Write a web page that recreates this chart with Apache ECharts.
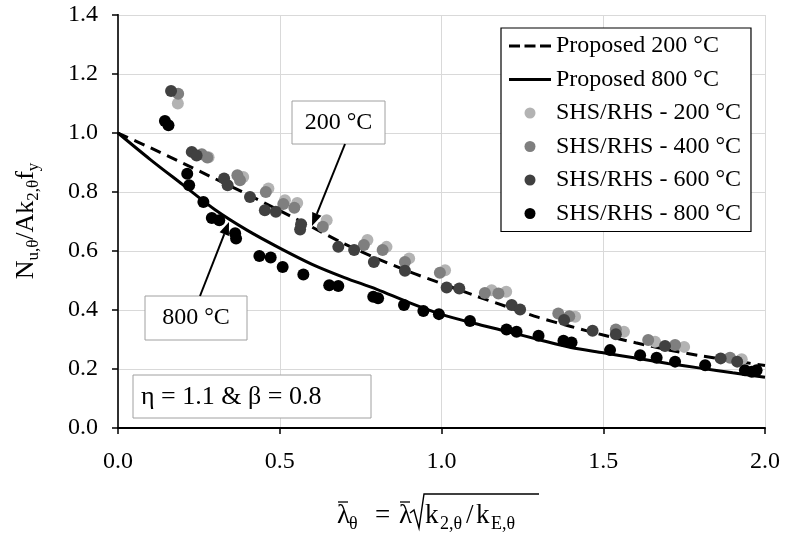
<!DOCTYPE html>
<html>
<head>
<meta charset="utf-8">
<script src="https://cdn.jsdelivr.net/npm/echarts@6/dist/echarts.min.js"></script>
<style>
  html, body { margin: 0; padding: 0; background: #fff; }
  #chart { width: 787px; height: 537px; }
</style>
</head>
<body>
<div id="chart"></div>
<script>
// 曲线的 x 取值
const curveX = [0.0, 0.1, 0.2, 0.3, 0.4, 0.5, 0.6, 0.7, 0.8, 0.9, 1.0,
  1.1, 1.2, 1.3, 1.4, 1.5, 1.6, 1.7, 1.8, 1.9, 2.0];
const proposed200 = [1.000, 0.950, 0.898, 0.845, 0.792, 0.737, 0.681, 0.624, 0.575, 0.530, 0.490,
  0.450, 0.412, 0.375, 0.344, 0.315, 0.289, 0.265, 0.245, 0.228, 0.212];
const proposed800 = [1.000, 0.910, 0.825, 0.740, 0.670, 0.610, 0.555, 0.510, 0.470, 0.425, 0.385,
  0.355, 0.328, 0.300, 0.273, 0.255, 0.237, 0.219, 0.203, 0.187, 0.172];

// 试验点 [λθ, Nu/(A k2 fy)]
const shs200 = [[0.185, 1.100], [0.280, 0.918], [0.387, 0.851], [0.465, 0.812], [0.516, 0.772],
  [0.554, 0.763], [0.645, 0.704], [0.771, 0.637], [0.830, 0.614], [0.900, 0.575], [1.011, 0.535],
  [1.155, 0.467], [1.200, 0.462], [1.413, 0.377], [1.564, 0.326], [1.660, 0.292], [1.750, 0.275],
  [1.928, 0.233]];
const shs400 = [[0.186, 1.133], [0.259, 0.928], [0.276, 0.917], [0.369, 0.857], [0.377, 0.840],
  [0.457, 0.800], [0.511, 0.759], [0.545, 0.747], [0.633, 0.682], [0.760, 0.620], [0.818, 0.603],
  [0.887, 0.563], [0.995, 0.526], [1.134, 0.458], [1.176, 0.456], [1.361, 0.388], [1.395, 0.379],
  [1.539, 0.334], [1.639, 0.298], [1.722, 0.281], [1.892, 0.238]];
const shs600 = [[0.164, 1.142], [0.228, 0.936], [0.243, 0.924], [0.328, 0.846], [0.339, 0.823],
  [0.408, 0.783], [0.454, 0.738], [0.488, 0.733], [0.563, 0.673], [0.566, 0.691], [0.681, 0.614],
  [0.730, 0.603], [0.791, 0.563], [0.887, 0.533], [1.016, 0.476], [1.055, 0.473], [1.217, 0.417],
  [1.243, 0.402], [1.379, 0.366], [1.467, 0.330], [1.539, 0.318], [1.691, 0.278], [1.863, 0.236],
  [1.914, 0.225]];
const shs800 = [[0.145, 1.041], [0.156, 1.026], [0.214, 0.862], [0.220, 0.823], [0.264, 0.766],
  [0.290, 0.712], [0.313, 0.704], [0.362, 0.660], [0.365, 0.642], [0.437, 0.583], [0.472, 0.578],
  [0.509, 0.546], [0.573, 0.520], [0.653, 0.484], [0.681, 0.481], [0.789, 0.445], [0.804, 0.440],
  [0.884, 0.417], [0.944, 0.397], [0.992, 0.386], [1.088, 0.363], [1.201, 0.334], [1.232, 0.326],
  [1.300, 0.313], [1.377, 0.296], [1.402, 0.290], [1.521, 0.264], [1.614, 0.247], [1.665, 0.238],
  [1.722, 0.225], [1.815, 0.213], [1.938, 0.196], [1.959, 0.191], [1.974, 0.196]];

const seriesNames = ['Proposed 200 °C', 'Proposed 800 °C',
  'SHS/RHS - 200 °C', 'SHS/RHS - 400 °C', 'SHS/RHS - 600 °C', 'SHS/RHS - 800 °C'];
const dotColors = ['#b3b3b3', '#7f7f7f', '#404040', '#000000'];

const FONT = '"Liberation Serif", "Times New Roman", serif';

// 图例里的线型图标（虚线 / 实线）
const dashIcon = 'path://M0,0h11v3h-11zM15.5,0h11v3h-11zM31,0h11v3h-11z';
const solidIcon = 'path://M0,0h42v3h-42z';

// 箭头：线段 + 三角形箭头
function arrow(x1, y1, x2, y2) {
  const dx = x2 - x1, dy = y2 - y1;
  const len = Math.sqrt(dx * dx + dy * dy);
  const ux = dx / len, uy = dy / len;
  const hl = 13, hw = 5;
  const bx = x2 - ux * hl, by = y2 - uy * hl;
  return [
    { type: 'line', shape: { x1: x1, y1: y1, x2: bx, y2: by },
      style: { stroke: '#000', lineWidth: 2 }, z: 100 },
    { type: 'polygon', shape: { points: [[x2, y2], [bx - uy * hw, by + ux * hw], [bx + uy * hw, by - ux * hw]] },
      style: { fill: '#000' }, z: 100 }
  ];
}

function labelBox(x, y, w, h, text, size) {
  return [
    { type: 'rect', shape: { x: x, y: y, width: w, height: h },
      style: { fill: '#fff', stroke: '#a0a0a0', lineWidth: 1 }, z: 100 },
    { type: 'text', x: x + w / 2, y: y + h / 2, z: 101,
      style: { text: text, font: size + 'px ' + FONT, fill: '#000', align: 'center', verticalAlign: 'middle' } }
  ];
}

function txt(x, y, text, size) {
  return { type: 'text', x: x, y: y, z: 101,
    style: { text: text, font: size + 'px ' + FONT, fill: '#000', align: 'left', verticalAlign: 'middle' } };
}

// x 轴名称（带上划线和根号）
const xNameParts = [
  txt(337, 516, 'λ', 27),
  { type: 'line', shape: { x1: 338, y1: 502, x2: 348, y2: 502 }, style: { stroke: '#000', lineWidth: 1.3 } },
  txt(349, 524, 'θ', 18),
  txt(375, 516, '=', 27),
  txt(399, 516, 'λ', 27),
  { type: 'line', shape: { x1: 400, y1: 502, x2: 410, y2: 502 }, style: { stroke: '#000', lineWidth: 1.3 } },
  { type: 'polyline', shape: { points: [[410, 513], [414, 510], [419, 528], [424, 494], [539, 494]] },
    style: { stroke: '#000', lineWidth: 1.4, fill: null } },
  txt(425, 516, 'k', 27),
  txt(440, 524, '2,θ', 18),
  txt(466, 516, '/', 27),
  txt(476, 516, 'k', 27),
  txt(491, 524, 'E,θ', 18)
];

const yName = {
  type: 'text', x: 26, y: 221, rotation: Math.PI / 2,
  style: {
    text: '{m|N}{s|u,θ}{m|/Ak}{s|2,θ}{m|f}{s|y}',
    align: 'center', verticalAlign: 'middle', fill: '#000',
    rich: {
      m: { fontFamily: FONT, fontSize: 26, lineHeight: 32, fill: '#000' },
      s: { fontFamily: FONT, fontSize: 17, lineHeight: 13, verticalAlign: 'bottom', fill: '#000' }
    }
  }
};

const chart = echarts.init(document.getElementById('chart'), null, { renderer: 'canvas' });

const option = {
  backgroundColor: '#fff',
  animation: false,
  grid: { left: 118, right: 22, top: 15, bottom: 109, containLabel: false },
  xAxis: {
    type: 'value', min: 0, max: 2, interval: 0.5,
    axisLine: { show: true, onZero: false, lineStyle: { color: '#000', width: 2 } },
    axisTick: { show: true, inside: false, length: 6, lineStyle: { color: '#000', width: 1.5 } },
    axisLabel: { margin: 22, fontFamily: FONT, fontSize: 24, color: '#000',
      formatter: v => v.toFixed(1) },
    splitLine: { show: true, lineStyle: { color: '#d9d9d9', width: 1 } }
  },
  yAxis: [{
    type: 'value', min: 0, max: 1.4, interval: 0.2,
    axisLine: { show: true, onZero: false, lineStyle: { color: '#000', width: 2 } },
    axisTick: { show: true, inside: false, length: 6, lineStyle: { color: '#000', width: 1.5 } },
    axisLabel: { margin: 20, fontFamily: FONT, fontSize: 24, color: '#000',
      formatter: v => v.toFixed(1) },
    splitLine: { show: true, lineStyle: { color: '#d9d9d9', width: 1 } }
  }, {
    type: 'value', min: 0, max: 1.4, position: 'right',
    axisLine: { show: true, lineStyle: { color: '#404040', width: 1.5 } },
    axisTick: { show: false }, axisLabel: { show: false }, splitLine: { show: false }
  }],
  legend: {
    orient: 'vertical', left: 501, top: 28,
    itemWidth: 42, itemHeight: 11, itemGap: 9.5,
    padding: [6, 10, 6, 8],
    borderColor: '#000', borderWidth: 1.2, backgroundColor: '#fff',
    textStyle: { fontFamily: FONT, fontSize: 24, color: '#000', lineHeight: 24 },
    data: [
      { name: seriesNames[0], icon: dashIcon },
      { name: seriesNames[1], icon: solidIcon },
      { name: seriesNames[2], icon: 'circle' },
      { name: seriesNames[3], icon: 'circle' },
      { name: seriesNames[4], icon: 'circle' },
      { name: seriesNames[5], icon: 'circle' }
    ],
    z: 50
  },
  series: [
    {
      name: seriesNames[0], type: 'line', showSymbol: false, symbol: 'none', smooth: 0.3,
      data: curveX.map((x, i) => [x, proposed200[i]]),
      lineStyle: { color: '#000', width: 3, type: [11, 7] }, itemStyle: { color: '#000' }, z: 2
    },
    {
      name: seriesNames[1], type: 'line', showSymbol: false, symbol: 'none', smooth: 0.3,
      data: curveX.map((x, i) => [x, proposed800[i]]),
      lineStyle: { color: '#000', width: 3 }, itemStyle: { color: '#000' }, z: 2
    },
    { name: seriesNames[2], type: 'scatter', symbolSize: 12, data: shs200, itemStyle: { color: dotColors[0], opacity: 1 }, z: 3 },
    { name: seriesNames[3], type: 'scatter', symbolSize: 12, data: shs400, itemStyle: { color: dotColors[1], opacity: 1 }, z: 4 },
    { name: seriesNames[4], type: 'scatter', symbolSize: 12, data: shs600, itemStyle: { color: dotColors[2], opacity: 1 }, z: 5 },
    { name: seriesNames[5], type: 'scatter', symbolSize: 12, data: shs800, itemStyle: { color: dotColors[3], opacity: 1 }, z: 6 }
  ],
  graphic: [].concat(
    labelBox(292, 101, 93, 43, '200 °C', 24),
    labelBox(145, 296, 102, 44, '800 °C', 24),
    arrow(345, 144, 312, 226),
    arrow(200, 296, 229, 222),
    [
      { type: 'rect', shape: { x: 133, y: 375, width: 238, height: 43 },
        style: { fill: '#fff', stroke: '#a0a0a0', lineWidth: 1 }, z: 100 },
      { type: 'text', x: 141, y: 397, z: 101,
        style: { text: 'η = 1.1 & β = 0.8', font: '26px ' + FONT, fill: '#000', align: 'left', verticalAlign: 'middle' } },
      yName
    ],
    xNameParts
  )
};

chart.setOption(option);
</script>
</body>
</html>
